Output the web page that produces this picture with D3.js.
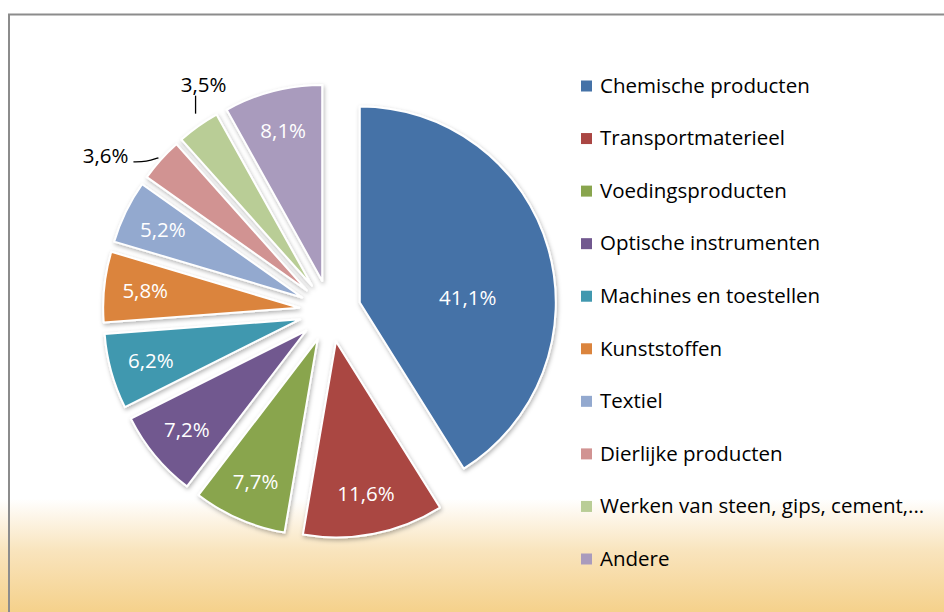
<!DOCTYPE html>
<html>
<head>
<meta charset="utf-8">
<script src="https://cdn.jsdelivr.net/npm/d3@7/dist/d3.min.js"></script>
<style>
  body { margin: 0; background: #fff; }
  text { font-family: "Open Sans", Lato, sans-serif; }
</style>
</head>
<body>
<svg id="chart"></svg>
<script>
// data
const categories = ["Chemische producten", "Transportmaterieel", "Voedingsproducten", "Optische instrumenten",
  "Machines en toestellen", "Kunststoffen", "Textiel", "Dierlijke producten",
  "Werken van steen, gips, cement,...", "Andere"];
const shares = [41.1, 11.6, 7.7, 7.2, 6.2, 5.8, 5.2, 3.6, 3.5, 8.1];
const sliceColors = ["#4572a7", "#aa4643", "#89a54e", "#71588f", "#4198af",
  "#db843d", "#93a9cf", "#d19392", "#b9cd96", "#a99bbd"];

var width = 944;
var height = 612;

var cx = 330, cy = 311;
var radius = 196;
var explode = 31;
var fontSize = 20.5;

var svg = d3.select("#chart")
  .attr("width", width)
  .attr("height", height);

var defs = svg.append("defs");

var grad = defs.append("linearGradient")
  .attr("id", "bg")
  .attr("x1", 0).attr("y1", 0).attr("x2", 0).attr("y2", 1);
grad.append("stop").attr("offset", 0).attr("stop-color", "#ffffff");
grad.append("stop").attr("offset", 0.815).attr("stop-color", "#ffffff");
grad.append("stop").attr("offset", 0.9).attr("stop-color", "#f9e4bd");
grad.append("stop").attr("offset", 1).attr("stop-color", "#f5d18b");

var shadow = defs.append("filter")
  .attr("id", "shadow")
  .attr("x", "-20%").attr("y", "-20%").attr("width", "140%").attr("height", "140%");
shadow.append("feDropShadow")
  .attr("dx", 1).attr("dy", 2)
  .attr("stdDeviation", 2.2)
  .attr("flood-color", "#000")
  .attr("flood-opacity", 0.3);

// chart area with gradient and grey frame (only top / left visible)
svg.append("rect")
  .attr("x", 0).attr("y", 0)
  .attr("width", width).attr("height", height)
  .attr("fill", "url(#bg)");
svg.append("path")
  .attr("d", "M9," + height + " V14.5 H" + width)
  .attr("fill", "none")
  .attr("stroke", "#8c8c8c")
  .attr("stroke-width", 2);

var pie = d3.pie().sort(null).value(d => d);
var arc = d3.arc().innerRadius(0).outerRadius(radius);
var arcs = pie(shares);

var fmt = v => v.toFixed(1).replace(".", ",") + "%";

function offset(d, dist) {
  var a = (d.startAngle + d.endAngle) / 2;
  return [Math.sin(a) * dist, -Math.cos(a) * dist];
}

var slices = svg.append("g")
  .attr("transform", "translate(" + cx + "," + cy + ")");

var sliceG = slices.selectAll("g.slice")
  .data(arcs)
  .enter()
  .append("g")
  .attr("class", "slice")
  .attr("transform", function(d) {
    var o = offset(d, explode);
    return "translate(" + o[0] + "," + o[1] + ")";
  });

sliceG.append("path")
  .attr("d", arc)
  .attr("fill", (d, i) => sliceColors[i])
  .attr("stroke", "#fff")
  .attr("stroke-width", 2)
  .attr("stroke-linejoin", "round")
  .attr("filter", "url(#shadow)");

// labels inside slices
sliceG.filter(d => d.value >= 4)
  .append("text")
  .attr("fill", "#fff")
  .attr("font-size", fontSize)
  .attr("text-anchor", "middle")
  .attr("dy", "0.35em")
  .attr("transform", function(d) {
    if (d.endAngle - d.startAngle > Math.PI / 2) {
      // big slice: centre of its bounding box
      var b = this.parentNode.querySelector("path").getBBox();
      return "translate(" + (b.x + b.width / 2 + 10) + "," + (b.y + b.height / 2 + 10) + ")";
    }
    var o = offset(d, radius * 0.79);
    return "translate(" + o[0] + "," + o[1] + ")";
  })
  .text(d => fmt(d.value));

// small slices: label outside with leader line
sliceG.filter(d => d.value < 4).each(function(d, k) {
  var g = d3.select(this);
  var s = offset(d, radius + 3);
  var pts, tx, ty, anchor;
  if (k === 0) {
    pts = [[s[0], s[1]], [s[0] - 12, s[1] + 4], [s[0] - 25, s[1] + 4]];
    tx = s[0] - 30; ty = s[1] - 2; anchor = "end";
  } else {
    s = [s[0] - 1, s[1] - 10];
    pts = [[s[0], s[1]], [s[0], s[1] - 18]];
    tx = s[0] + 8; ty = s[1] - 29; anchor = "middle";
  }
  g.append("path")
    .attr("d", d3.line().curve(d3.curveBasis)(pts))
    .attr("fill", "none")
    .attr("stroke", "#000")
    .attr("stroke-width", 1.3);
  g.append("text")
    .attr("x", tx).attr("y", ty)
    .attr("dy", "0.35em")
    .attr("text-anchor", anchor)
    .attr("font-size", fontSize)
    .attr("fill", "#000")
    .text(fmt(d.value));
});

// legend
var legendY = d3.scalePoint()
  .domain(categories)
  .range([86, 559]);

var legend = svg.append("g")
  .selectAll("g")
  .data(categories)
  .enter()
  .append("g")
  .attr("transform", d => "translate(581," + legendY(d) + ")");

legend.append("rect")
  .attr("x", 0).attr("y", -5.5)
  .attr("width", 11).attr("height", 11)
  .attr("fill", (d, i) => sliceColors[i]);

legend.append("text")
  .attr("x", 19)
  .attr("dy", "0.33em")
  .attr("font-size", fontSize)
  .attr("fill", "#000")
  .text(d => d);
</script>
</body>
</html>
